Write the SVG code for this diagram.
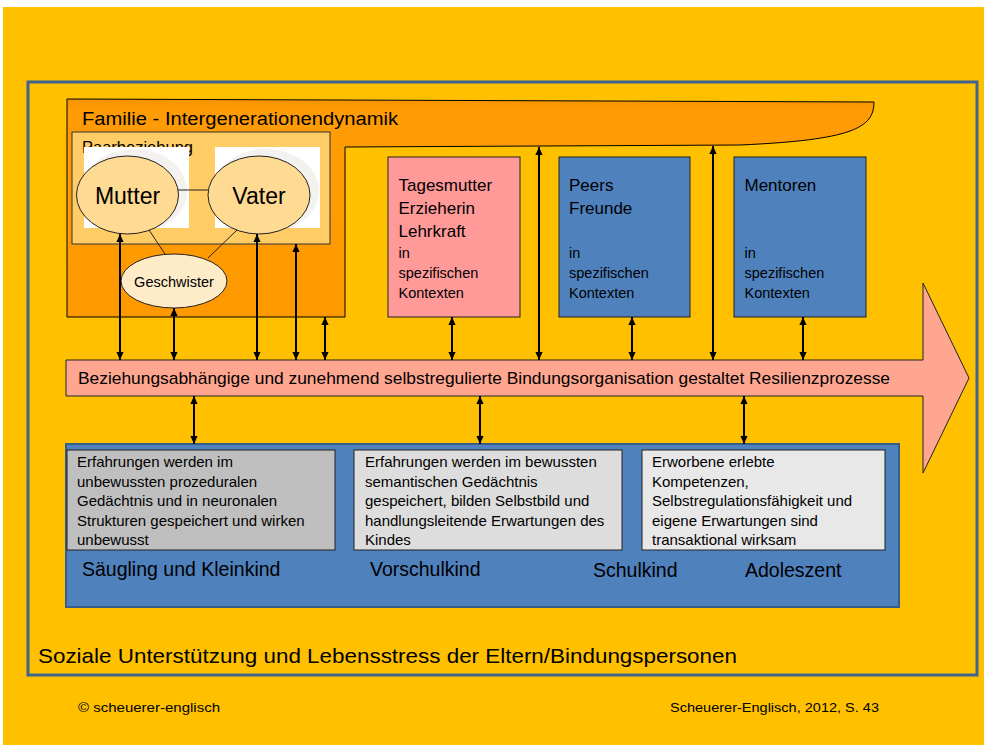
<svg xmlns="http://www.w3.org/2000/svg" width="984" height="745" viewBox="0 0 984 745">
<defs>
<style>
.t{font-family:"Liberation Sans",Arial,sans-serif;fill:#000}
.conn line{stroke:#000;stroke-width:2;marker-start:url(#ah);marker-end:url(#ah)}
.box{stroke:#222;stroke-width:1}
.ell{stroke:#222;stroke-width:1}
.thin{stroke:#222;stroke-width:1}
.shade{fill:#F3F2EE}
</style>
<marker id="ah" viewBox="0 0 10 10" refX="10" refY="5" markerWidth="9" markerHeight="8" orient="auto-start-reverse" markerUnits="userSpaceOnUse">
<path d="M0,0.5 L10,5 L0,9.5 Z" fill="#000"/>
</marker>
<linearGradient id="fam" x1="0" y1="0" x2="0" y2="1">
<stop offset="0" stop-color="#F59400"/>
<stop offset="0.06" stop-color="#FF9C05"/>
<stop offset="1" stop-color="#FF9900"/>
</linearGradient>
<clipPath id="cm"><rect x="84" y="147" width="105" height="81"/></clipPath>
<clipPath id="cv"><rect x="215" y="147" width="105" height="81"/></clipPath>
</defs>
<rect x="0" y="0" width="984" height="745" fill="#fff"/>
<rect x="3" y="7" width="981" height="738" fill="#FFC000"/>
<rect id="outer" x="28" y="82" width="949" height="593" fill="none" stroke="#41648F" stroke-width="3"/>
<text class="t" x="38" y="663" font-size="21" textLength="699" lengthAdjust="spacingAndGlyphs">Soziale Unterstützung und Lebensstress der Eltern/Bindungspersonen</text>

<g id="familie">
<path d="M67,99 L874,102 C874,128 852,140 740,145 L345,147 L345,317 L67,317 Z" fill="url(#fam)" stroke="#000" stroke-width="1"/>
<text class="t" x="82" y="125" font-size="18" textLength="316" lengthAdjust="spacingAndGlyphs">Familie - Intergenerationendynamik</text>
</g>

<g id="paarbeziehung">
<rect x="72" y="132" width="258" height="112" fill="#FFCC66" stroke="#333" stroke-width="1"/>
<text class="t" x="82" y="153" font-size="16.5">Paarbeziehung</text>
<rect x="84" y="147" width="105" height="81" fill="#fff"/>
<rect x="215" y="147" width="105" height="81" fill="#fff"/>
<ellipse class="shade" cx="134" cy="191" rx="53" ry="42" clip-path="url(#cm)"/>
<ellipse class="shade" cx="266" cy="191" rx="53" ry="42" clip-path="url(#cv)"/>
<line class="thin" x1="178" y1="190" x2="208" y2="190"/>
<line class="thin" x1="149" y1="230" x2="165" y2="254"/>
<line class="thin" x1="237" y1="230" x2="208" y2="258"/>
</g>

<g id="mutter">
<ellipse class="ell" cx="127.5" cy="195" rx="51" ry="39" fill="#FFDA92"/>
<text class="t" x="127.5" y="204" font-size="23" text-anchor="middle">Mutter</text>
</g>
<g id="vater">
<ellipse class="ell" cx="259" cy="195" rx="51" ry="39" fill="#FFDA92"/>
<text class="t" x="259" y="204" font-size="23" text-anchor="middle">Vater</text>
</g>
<g id="geschwister">
<ellipse class="ell" cx="174" cy="281" rx="53" ry="27" fill="#FEEBC8"/>
<text class="t" x="174" y="287" font-size="14.5" text-anchor="middle">Geschwister</text>
</g>

<g id="tagesmutter">
<rect class="box" x="388" y="157" width="132" height="160" fill="#FF9A99"/>
<text class="t" x="398.5" y="191" font-size="17">Tagesmutter</text>
<text class="t" x="398.5" y="214" font-size="17">Erzieherin</text>
<text class="t" x="398.5" y="237" font-size="17">Lehrkraft</text>
<text class="t" x="398.5" y="258" font-size="14.5">in</text>
<text class="t" x="398.5" y="278" font-size="14.5">spezifischen</text>
<text class="t" x="398.5" y="298" font-size="14.5">Kontexten</text>
</g>
<g id="peers">
<rect class="box" x="559" y="157" width="131" height="160" fill="#4F81BD"/>
<text class="t" x="569" y="191" font-size="17">Peers</text>
<text class="t" x="569" y="214" font-size="17">Freunde</text>
<text class="t" x="569" y="258" font-size="14.5">in</text>
<text class="t" x="569" y="278" font-size="14.5">spezifischen</text>
<text class="t" x="569" y="298" font-size="14.5">Kontexten</text>
</g>
<g id="mentoren">
<rect class="box" x="734" y="157" width="132" height="160" fill="#4F81BD"/>
<text class="t" x="744.5" y="191" font-size="17">Mentoren</text>
<text class="t" x="744.5" y="258" font-size="14.5">in</text>
<text class="t" x="744.5" y="278" font-size="14.5">spezifischen</text>
<text class="t" x="744.5" y="298" font-size="14.5">Kontexten</text>
</g>

<g id="bindung">
<path d="M66,360 L923,360 L923,283 L969,378 L923,473 L923,396 L66,396 Z" fill="#FFA690" stroke="#222" stroke-width="1"/>
<text class="t" x="78" y="384" font-size="17" textLength="812" lengthAdjust="spacingAndGlyphs">Beziehungsabhängige und zunehmend selbstregulierte Bindungsorganisation gestaltet Resilienzprozesse</text>
</g>

<g id="entwicklung">
<rect x="66" y="444" width="833" height="163" fill="#4F81BD" stroke="#385D8A" stroke-width="2"/>
<text class="t" x="82" y="576" font-size="19.5">Säugling und Kleinkind</text>
<text class="t" x="370" y="576" font-size="19.5">Vorschulkind</text>
<text class="t" x="593" y="577" font-size="19.5">Schulkind</text>
<text class="t" x="745" y="577" font-size="19.5">Adoleszent</text>
</g>
<g id="box-saeugling">
<rect class="box" x="67" y="450" width="268" height="100" fill="#BFBFBF"/>
<text class="t" font-size="15"><tspan x="77" y="467">Erfahrungen werden im</tspan><tspan x="77" y="486.5">unbewussten prozeduralen</tspan><tspan x="77" y="506">Gedächtnis und in neuronalen</tspan><tspan x="77" y="525.5">Strukturen gespeichert und wirken</tspan><tspan x="77" y="545">unbewusst</tspan></text>
</g>
<g id="box-vorschul">
<rect class="box" x="354" y="450" width="268" height="100" fill="#DDDDDD"/>
<text class="t" font-size="15"><tspan x="365" y="467">Erfahrungen werden im bewussten</tspan><tspan x="365" y="486.5">semantischen Gedächtnis</tspan><tspan x="365" y="506">gespeichert, bilden Selbstbild und</tspan><tspan x="365" y="525.5">handlungsleitende Erwartungen des</tspan><tspan x="365" y="545">Kindes</tspan></text>
</g>
<g id="box-adoleszent">
<rect class="box" x="642" y="450" width="243" height="100" fill="#E8E8E8"/>
<text class="t" font-size="15"><tspan x="652" y="467">Erworbene erlebte</tspan><tspan x="652" y="486.5">Kompetenzen,</tspan><tspan x="652" y="506">Selbstregulationsfähigkeit und</tspan><tspan x="652" y="525.5">eigene Erwartungen sind</tspan><tspan x="652" y="545">transaktional wirksam</tspan></text>
</g>

<g id="connectors" class="conn">
<line x1="120" y1="234" x2="120" y2="360"/>
<line x1="174" y1="308" x2="174" y2="360"/>
<line x1="257" y1="234" x2="257" y2="360"/>
<line x1="296" y1="244" x2="296" y2="360"/>
<line x1="325" y1="317" x2="325" y2="360"/>
<line x1="452" y1="317" x2="452" y2="360"/>
<line x1="539" y1="147" x2="539" y2="360"/>
<line x1="632" y1="317" x2="632" y2="360"/>
<line x1="713" y1="146" x2="713" y2="360"/>
<line x1="803" y1="317" x2="803" y2="360"/>
<line x1="194" y1="396" x2="194" y2="444"/>
<line x1="480" y1="396" x2="480" y2="444"/>
<line x1="744" y1="396" x2="744" y2="444"/>
</g>

<text class="t" x="78" y="712" font-size="13" textLength="142" lengthAdjust="spacingAndGlyphs">© scheuerer-englisch</text>
<text class="t" x="670" y="712" font-size="13" textLength="209" lengthAdjust="spacingAndGlyphs">Scheuerer-Englisch, 2012, S. 43</text>
</svg>
